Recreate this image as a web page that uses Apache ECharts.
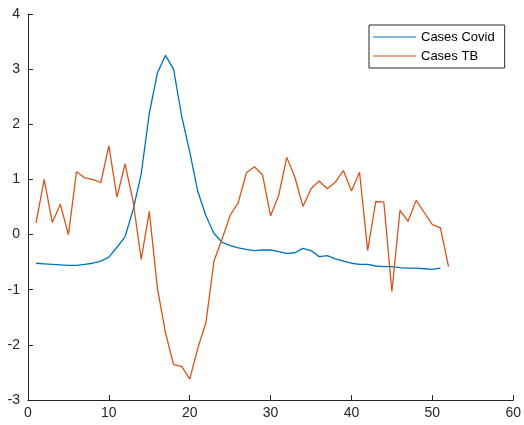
<!DOCTYPE html>
<html><head><meta charset="utf-8">
<script src="https://cdn.jsdelivr.net/npm/echarts@6/dist/echarts.min.js"></script>
<style>html,body{margin:0;padding:0;background:#fff}#c{width:524px;height:425px}</style>
</head><body><div id="c"></div>
<script>
const seriesNames = ['Cases Covid', 'Cases TB'];
const casesCovid = [-0.52,-0.53,-0.54,-0.55,-0.56,-0.56,-0.54,-0.52,-0.48,-0.41,-0.23,-0.04,0.45,1.1,2.2,2.93,3.25,3.0,2.15,1.5,0.78,0.34,0.02,-0.14,-0.2,-0.24,-0.27,-0.29,-0.28,-0.28,-0.31,-0.34,-0.33,-0.25,-0.29,-0.4,-0.38,-0.44,-0.48,-0.52,-0.54,-0.54,-0.57,-0.58,-0.58,-0.6,-0.61,-0.61,-0.62,-0.63,-0.61];
const casesTB = [0.21,1.0,0.22,0.55,0.0,1.14,1.03,1.0,0.94,1.61,0.68,1.28,0.6,-0.45,0.42,-0.97,-1.78,-2.36,-2.39,-2.62,-2.06,-1.6,-0.48,-0.08,0.35,0.58,1.12,1.23,1.08,0.34,0.71,1.4,1.04,0.51,0.83,0.97,0.83,0.95,1.16,0.79,1.13,-0.29,0.6,0.59,-1.03,0.44,0.24,0.62,0.4,0.18,0.12,-0.58];
const xTicks = [0,10,20,30,40,50,60];
const yTicks = [-3,-2,-1,0,1,2,3,4];

const toPairs = arr => arr.map((v, i) => [i + 1, v]);
const axisCol = '#262626';
const chart = echarts.init(document.getElementById('c'));
chart.setOption({
  animation: false,
  backgroundColor: '#fff',
  grid: { left: 28, right: 8, top: 14, bottom: 25, containLabel: false },
  xAxis: {
    type: 'value', min: xTicks[0], max: xTicks[xTicks.length-1], interval: 10,
    axisLine: { show: true, onZero: false, lineStyle: { color: axisCol, width: 1 } },
    axisTick: { show: true, inside: true, length: 5, lineStyle: { color: axisCol } },
    axisLabel: { color: axisCol, fontSize: 14, fontFamily: 'Liberation Sans, Arial', margin: 6 },
    splitLine: { show: false }
  },
  yAxis: {
    type: 'value', min: yTicks[0], max: yTicks[yTicks.length-1], interval: 1,
    axisLine: { show: true, onZero: false, lineStyle: { color: axisCol, width: 1 } },
    axisTick: { show: true, inside: true, length: 5, lineStyle: { color: axisCol } },
    axisLabel: { color: axisCol, fontSize: 14, fontFamily: 'Liberation Sans, Arial', margin: 8 },
    splitLine: { show: false }
  },
  legend: {
    orient: 'vertical', left: 369, top: 25,
    backgroundColor: '#fff', borderColor: axisCol, borderWidth: 1,
    padding: [5, 10, 5, 4], itemGap: 5, itemWidth: 43, itemHeight: 1.2,
    icon: 'rect',
    textStyle: { color: '#000', fontSize: 13, fontFamily: 'Liberation Sans, Arial', lineHeight: 14 },
    data: seriesNames
  },
  series: [
    { name: seriesNames[0], type: 'line', data: toPairs(casesCovid), showSymbol: false, symbol: 'none',
      lineStyle: { color: '#0072BD', width: 1.3 }, itemStyle: { color: '#0072BD' } },
    { name: seriesNames[1], type: 'line', data: toPairs(casesTB), showSymbol: false, symbol: 'none',
      lineStyle: { color: '#D95319', width: 1.3 }, itemStyle: { color: '#D95319' } }
  ]
});
</script></body></html>
